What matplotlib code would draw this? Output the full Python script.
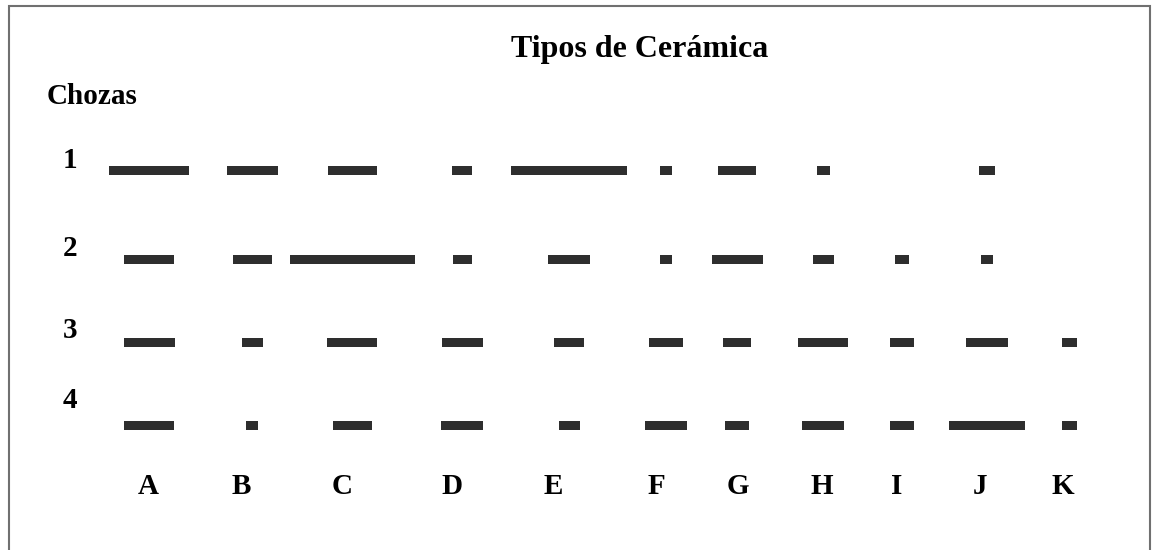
import numpy as np
import matplotlib.pyplot as plt

# ceramic types and huts (seriation chart)
tipos = ["A", "B", "C", "D", "E", "F", "G", "H", "I", "J", "K"]
chozas = ["1", "2", "3", "4"]

# relative abundance of each type per hut (bar length), 0 = absent
choza1 = [80, 51, 49, 20, 116, 12, 38, 13, 0, 16, 0]
choza2 = [50, 39, 125, 19, 42, 12, 51, 21, 14, 12, 0]
choza3 = [51, 21, 50, 41, 30, 34, 28, 50, 24, 42, 15]
choza4 = [50, 12, 39, 42, 21, 42, 24, 42, 24, 76, 15]

# layout (pixel space of the figure)
col_x = [149, 252, 352, 462, 569, 666, 737, 823, 902, 987, 1069]
lab_x = [148, 241, 342, 452, 553, 656, 738, 822, 897, 980, 1063]
row_y = [170, 259, 342, 425]
rowlab_y = [160, 248, 331, 400]

fig = plt.figure(figsize=(11.6, 5.5), dpi=100)
ax = fig.add_axes([0, 0, 1, 1])
ax.set_xlim(0, 1160)
ax.set_ylim(550, 0)
ax.axis("off")

serif = "Liberation Serif"
bar_color = "#2e2e2e"

for y, vals in zip(row_y, [choza1, choza2, choza3, choza4]):
    w = np.array(vals, dtype=float)
    c = np.array(col_x, dtype=float)
    m = w > 0
    ax.barh(y, w[m], left=c[m] - w[m] / 2, height=9, color=bar_color,
            edgecolor="none")

ax.text(640, 50, "Tipos de Cerámica", ha="center", va="center",
        fontsize=23, fontweight="bold", family=serif)
ax.text(47, 96, "Chozas", ha="left", va="center",
        fontsize=21, fontweight="bold", family=serif)

for lab, y in zip(chozas, rowlab_y):
    ax.text(70, y, lab, ha="center", va="center",
            fontsize=21, fontweight="bold", family=serif)

for lab, x in zip(tipos, lab_x):
    ax.text(x, 486, lab, ha="center", va="center",
            fontsize=21, fontweight="bold", family=serif)

# frame
ax.plot([9, 9, 1150, 1150], [550, 6, 6, 550], color="#707070", lw=1.5,
        solid_joinstyle="miter")

fig.savefig("out.png", dpi=100, facecolor="white")
